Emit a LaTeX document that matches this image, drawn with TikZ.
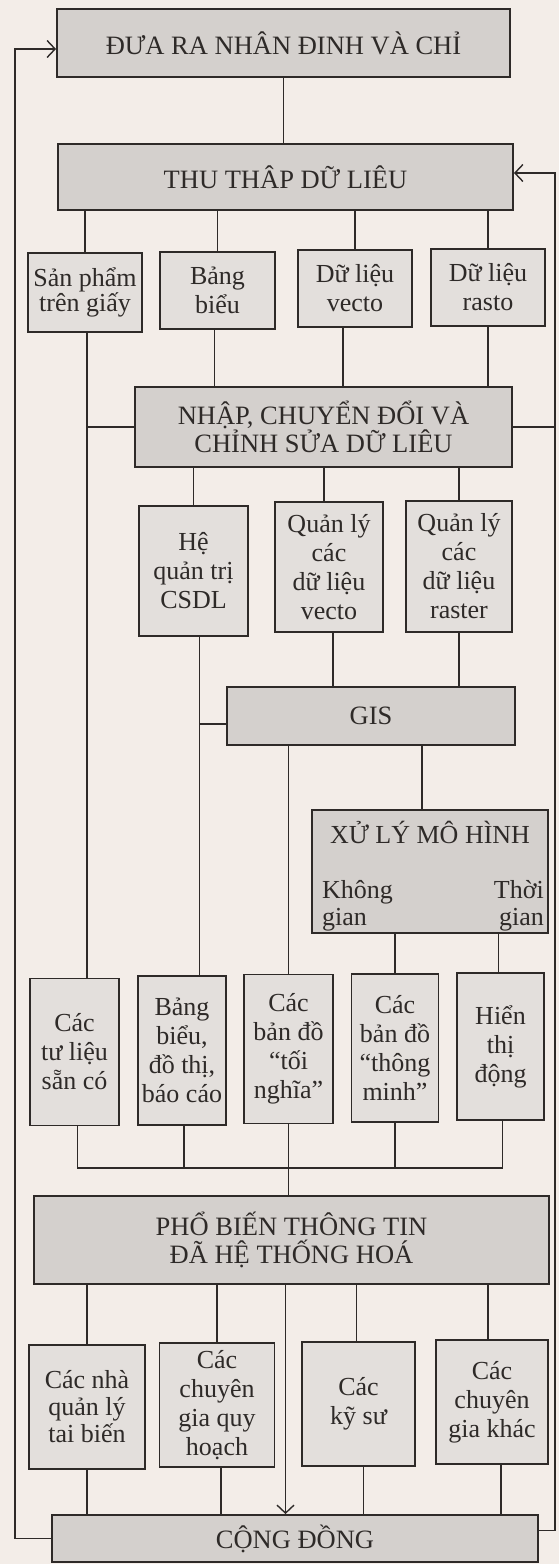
\documentclass[tikz,border=0pt]{standalone}
\usepackage{fontspec}
\setmainfont{Liberation Serif}
\usetikzlibrary{arrows.meta}
\definecolor{bg}{HTML}{F3EDE8}
\definecolor{bigfill}{HTML}{D4D0CD}
\definecolor{smallfill}{HTML}{E3DFDC}
\definecolor{ink}{HTML}{2E2A28}
\tikzset{
  bigbox/.style={draw=ink, line width=1.9pt, fill=bigfill, inner sep=0pt, align=center,
    text=ink, font=\fontsize{26.5}{28}\selectfont},
  smallbox/.style={draw=ink, line width=1.5pt, fill=smallfill, inner sep=0pt, align=center,
    text=ink, font=\fontsize{26}{29}\selectfont},
  txt/.style={inner sep=0pt, text=ink, font=\fontsize{26}{29}\selectfont},
  conn/.style={draw=ink, line width=1.3pt},
  arr/.style={conn, -{Straight Barb[length=8pt,width=17pt,line width=1.4pt]}},
}
\begin{document}
\begin{tikzpicture}[x=1pt,y=-1pt]
\useasboundingbox[fill=bg] (0,0) rectangle (559,1564);
\coordinate (L) at (15,0);
\coordinate (R) at (555,0);
\coordinate (bus) at (0,1168);

% big boxes
\node[bigbox, minimum width=453pt, minimum height=68pt] (top) at (283.5,43) {ĐƯA RA NHÂN ĐINH VÀ CHỈ};
\node[bigbox, minimum width=455pt, minimum height=66pt] (thu) at (285.5,177) {THU THÂP DỮ LIÊU};
\node[bigbox, minimum width=377pt, minimum height=80pt] (nhap) at (323.5,427) {NHẬP, CHUYỂN ĐỔI VÀ\\CHỈNH SỬA DỮ LIÊU};
\node[bigbox, minimum width=288pt, minimum height=58pt] (gis) at (371,716) {GIS};
\node[bigbox, minimum width=236pt, minimum height=123pt] (xl) at (430,871.5) {};
\node[bigbox, minimum width=515pt, minimum height=88pt] (pb) at (291.5,1240) {PHỔ BIẾN THÔNG TIN\\ĐÃ HỆ THỐNG HOÁ};
\node[bigbox, minimum width=486pt, minimum height=47pt] (cd) at (295,1538.5) {CỘNG ĐỒNG};

% texts inside model box
\node[txt, anchor=base] (xlt) at (430,843) {XỬ LÝ MÔ HÌNH};
\node[txt, anchor=base west] (kg1) at (322,898) {Không};
\node[txt, anchor=base west] (kg2) at (322,925) {gian};
\node[txt, anchor=base east] (tg1) at (544,898) {Thời};
\node[txt, anchor=base east] (tg2) at (544,925) {gian};

% data row
\node[smallbox, minimum width=114pt, minimum height=79pt, font=\fontsize{26}{25}\selectfont] (sp) at (85,292.5) {Sản phẩm\\trên giấy};
\node[smallbox, minimum width=115pt, minimum height=77pt] (bb) at (217.5,290.5) {Bảng\\biểu};
\node[smallbox, minimum width=114pt, minimum height=77pt] (dv) at (355,288.5) {Dữ liệu\\vecto};
\node[smallbox, minimum width=114pt, minimum height=77pt] (dr) at (488,287.5) {Dữ liệu\\rasto};

% management row
\node[smallbox, minimum width=109pt, minimum height=130pt] (hq) at (193.5,571) {Hệ\\quản trị\\CSDL};
\node[smallbox, minimum width=108pt, minimum height=130pt] (qv) at (329,567) {Quản lý\\các\\dữ liệu\\vecto};
\node[smallbox, minimum width=106pt, minimum height=131pt] (qr) at (459,566.5) {Quản lý\\các\\dữ liệu\\raster};

% output row
\node[smallbox, minimum width=89pt, minimum height=147pt] (tl) at (74.5,1052) {Các\\tư liệu\\sẵn có};
\node[smallbox, minimum width=88pt, minimum height=149pt] (bc) at (182,1050.5) {Bảng\\biểu,\\đồ thị,\\báo cáo};
\node[smallbox, minimum width=89pt, minimum height=149pt] (tn) at (288.5,1049) {Các\\bản đồ\\“tối\\nghĩa”};
\node[smallbox, minimum width=87pt, minimum height=148pt] (tm) at (395,1048) {Các\\bản đồ\\“thông\\minh”};
\node[smallbox, minimum width=87pt, minimum height=147pt] (hd) at (500.5,1046.5) {Hiển\\thị\\động};

% users row
\node[smallbox, minimum width=116pt, minimum height=124pt, font=\fontsize{26}{27}\selectfont] (qlt) at (87,1407) {Các nhà\\quản lý\\tai biến};
\node[smallbox, minimum width=115pt, minimum height=124pt] (cgq) at (217,1405) {Các\\chuyên\\gia quy\\hoạch};
\node[smallbox, minimum width=113pt, minimum height=124pt] (ks) at (358.5,1404) {Các\\kỹ sư};
\node[smallbox, minimum width=112pt, minimum height=124pt] (cgk) at (492,1402) {Các\\chuyên\\gia khác};

% connectors
\draw[conn] (top.south) -- (top.south |- thu.north);
\draw[conn] (sp.north) -- (sp.north |- thu.south);
\draw[conn] (bb.north) -- (bb.north |- thu.south);
\draw[conn] (dv.north) -- (dv.north |- thu.south);
\draw[conn] (dr.north) -- (dr.north |- thu.south);

\draw[conn] ([xshift=2pt]sp.south) -- ([xshift=2pt]sp.south |- tl.north);
\draw[conn] ([xshift=2pt]sp.south |- nhap.west) -- (nhap.west);
\draw[conn] ([xshift=-3pt]bb.south) -- ([xshift=-3pt]bb.south |- nhap.north);
\draw[conn] ([xshift=-12pt]dv.south) -- ([xshift=-12pt]dv.south |- nhap.north);
\draw[conn] (dr.south) -- (dr.south |- nhap.north);
\draw[conn] (nhap.east) -- (nhap.east -| R);

\draw[conn] (hq.north) -- (hq.north |- nhap.south);
\draw[conn] ([xshift=-5pt]qv.north) -- ([xshift=-5pt]qv.north |- nhap.south);
\draw[conn] (qr.north) -- (qr.north |- nhap.south);

\draw[conn] ([xshift=6pt]hq.south) -- ([xshift=6pt]hq.south |- bc.north);
\draw[conn] ([xshift=6pt,yshift=-8pt]hq.south |- gis.west) -- ([yshift=-8pt]gis.west);
\draw[conn] ([xshift=4pt]qv.south) -- ([xshift=4pt]qv.south |- gis.north);
\draw[conn] (qr.south) -- (qr.south |- gis.north);

\draw[conn] (tn.north) -- (tn.north |- gis.south);
\draw[conn] ([xshift=-8pt]xl.north) -- ([xshift=-8pt]xl.north |- gis.south);
\draw[conn] (tm.north) -- (tm.north |- xl.south);
\draw[conn] ([xshift=-2pt]hd.north) -- ([xshift=-2pt]hd.north |- xl.south);

\draw[conn] ([xshift=3pt]tl.south) -- ([xshift=3pt]tl.south |- bus) -- ([xshift=2pt]hd.south |- bus) -- ([xshift=2pt]hd.south);
\draw[conn] ([xshift=2pt]bc.south) -- ([xshift=2pt]bc.south |- bus);
\draw[conn] (tm.south) -- (tm.south |- bus);
\draw[conn] (tn.south) -- (tn.south |- pb.north);

\draw[conn] (qlt.north) -- (qlt.north |- pb.south);
\draw[conn] (cgq.north) -- (cgq.north |- pb.south);
\draw[conn] ([xshift=-2pt]ks.north) -- ([xshift=-2pt]ks.north |- pb.south);
\draw[conn] ([xshift=-4pt]cgk.north) -- ([xshift=-4pt]cgk.north |- pb.south);
\draw[arr] ([xshift=-3pt]tn.south |- pb.south) -- ([xshift=-3pt]tn.south |- cd.north);

\draw[conn] (qlt.south) -- (qlt.south |- cd.north);
\draw[conn] ([xshift=4pt]cgq.south) -- ([xshift=4pt]cgq.south |- cd.north);
\draw[conn] ([xshift=5pt]ks.south) -- ([xshift=5pt]ks.south |- cd.north);
\draw[conn] ([xshift=9pt]cgk.south) -- ([xshift=9pt]cgk.south |- cd.north);

% feedback loops
\draw[arr] (cd.west) -- (cd.west -| L) -- ([yshift=-6pt]top.west -| L) -- ([yshift=-6pt]top.west);
\draw[arr] ([yshift=8pt]cd.east) -- ([yshift=8pt]cd.east -| R) -- ([yshift=4pt]thu.east -| R) -- ([yshift=4pt]thu.east);
\end{tikzpicture}
\end{document}
